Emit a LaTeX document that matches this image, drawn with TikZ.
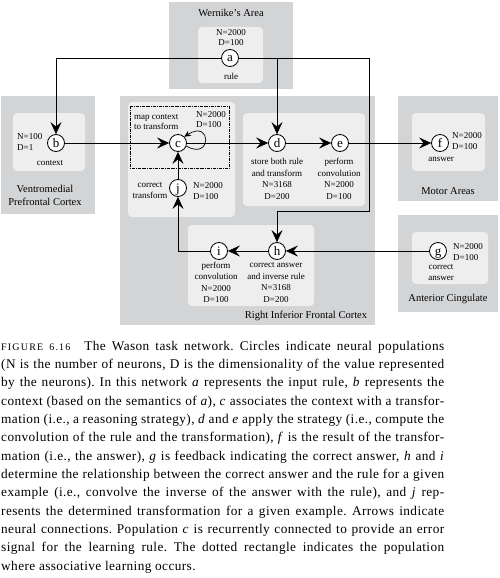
\documentclass[tikz,border=0pt]{standalone}
\usepackage{fontspec}
\setmainfont{Liberation Serif}
\usetikzlibrary{arrows.meta,calc}
\definecolor{outergray}{RGB}{211,212,214}
\definecolor{innergray}{RGB}{238,238,239}
\begin{document}
\frenchspacing
\begin{tikzpicture}[x=1pt,y=-1pt,
  region/.style={fill=outergray},
  panel/.style={fill=innergray,rounded corners=4pt},
  pop/.style={circle,draw,fill=white,line width=0.8pt,minimum size=17pt,inner sep=0pt,
    text height=8pt,text depth=0pt,font=\fontsize{13}{13}\selectfont},
  lbl/.style={font=\fontsize{9}{11.5}\selectfont,inner sep=0pt,align=center},
  lbll/.style={font=\fontsize{9}{11}\selectfont,inner sep=0pt,align=left,anchor=west},
  ttl/.style={font=\fontsize{10.5}{13}\selectfont,inner sep=0pt,align=center},
  conn/.style={line width=0.7pt,-{Stealth[length=12pt,width=11pt,inset=4.5pt]}},
  selfconn/.style={line width=0.7pt,-{Stealth[length=6.5pt,width=6pt,inset=2pt]}},
  capline/.style={font=\fontsize{13.3}{15}\selectfont\addfontfeatures{LetterSpace=3},inner sep=0pt,anchor=base west},
  learnbox/.style={line width=0.6pt,dash pattern=on 3pt off 1pt on 0.8pt off 1pt}
]
\useasboundingbox[fill=white] (0,0) rectangle (500,578);

% regions
\fill[region] (169,2) rectangle (293,89);
\fill[panel] (198,27) rectangle (263,83);
\fill[region] (1,96) rectangle (95,214);
\fill[panel] (13,113) rectangle (85,171);
\fill[region] (120,96) rectangle (375,325);
\fill[panel] (128,102) rectangle (235,217);
\fill[panel] (243,113) rectangle (365,206);
\fill[panel] (188,225) rectangle (314,306);
\fill[region] (398,96) rectangle (498,201);
\fill[panel] (412,113) rectangle (485,171);
\fill[region] (398,215) rectangle (498,312);
\fill[panel] (412,232) rectangle (488,284);
\draw[learnbox] (130,106) rectangle (229,168);

% titles
\node[ttl] (tW) at (231,13) {Wernike's Area};
\node[ttl] (tV) at (45,195.5) {Ventromedial\\Prefrontal Cortex};
\node[ttl] (tM) at (448,191) {Motor Areas};
\node[ttl] (tA) at (448,299) {Anterior Cingulate};
\node[ttl] (tR) at (306,315.5) {Right Inferior Frontal Cortex};

% populations
\node[pop] (a) at (230,58) {a};
\node[pop] (b) at (56,143) {b};
\node[pop] (c) at (178,143) {c};
\node[pop] (d) at (277,143) {d};
\node[pop] (e) at (340,143) {e};
\node[pop] (f) at (440,143) {f};
\node[pop] (g) at (438,251) {g};
\node[pop] (h) at (277,251) {h};
\node[pop] (i) at (219,251) {i};
\node[pop] (j) at (178,188) {j};

% labels
\node[lbl,font=\fontsize{9}{10}\selectfont] (aND) at (231,38) {N=2000\\D=100};
\node[lbl] (aL) at (231,76) {rule};
\node[lbll] (bND) at (17,142.5) {N=100\\D=1};
\node[lbl] (bL) at (50,163) {context};
\node[lbll,font=\fontsize{9}{10.6}\selectfont] (cL) at (134,122) {map context\\to transform};
\node[lbll,font=\fontsize{9}{10}\selectfont] (cND) at (196,119.5) {N=2000\\D=100};
\node[lbl,font=\fontsize{9}{11}\selectfont] (jL) at (150,190.5) {correct\\transform};
\node[lbll] (jND) at (193,191) {N=2000\\D=100};
\node[lbl] (dL) at (277,179) {store both rule\\and transform\\N=3168\\D=200};
\node[lbl] (eL) at (339,179) {perform\\convolution\\N=2000\\D=100};
\node[lbll] (fND) at (452,141.5) {N=2000\\D=100};
\node[lbl] (fL) at (441,159) {answer};
\node[lbll] (gND) at (453,252.5) {N=2000\\D=100};
\node[lbl,font=\fontsize{9}{11}\selectfont] (gL) at (441,273) {correct\\answer};
\node[lbl] (iL) at (216,282.5) {perform\\convolution\\N=2000\\D=100};
\node[lbl] (hL) at (276,282.5) {correct answer\\and inverse rule\\N=3168\\D=200};

% connectors
\coordinate (ahTop) at (369,58);
\coordinate (ahBend) at (369,211);
\draw[conn] (a.west) -| (b.north);
\draw[conn] (a.east) -| (d.north);
\draw[conn] (a.east) -- (ahTop) -- (ahBend) -| (h.north);
\draw[conn] (b.east) -- (c.west);
\draw[conn] (c.east) -- (d.west);
\draw[conn] (d.east) -- (e.west);
\draw[conn] (e.east) -- (f.west);
\draw[conn] (j.north) -- (c.south);
\draw[conn] (g.west) -- (h.east);
\draw[conn] (h.west) -- (i.east);
\draw[conn] (i.west) -| (j.south);
\draw[selfconn] (c.-20) .. controls ($(c)+(34,18)$) and ($(c)+(34,-24)$) .. (c.45);

% caption
\node[capline] (cap1) at (1,350) {\makebox[443pt][s]{{\fontsize{10}{10}\selectfont\addfontfeatures{LetterSpace=12}FIGURE 6.16}\hspace{14pt}The Wason task network. Circles indicate neural populations}};
\node[capline] (cap2) at (1,368.33) {\makebox[443pt][s]{(N is the number of neurons, D is the dimensionality of the value represented}};
\node[capline] (cap3) at (1,386.67) {\makebox[443pt][s]{by the neurons). In this network \textit{a} represents the input rule, \textit{b} represents the}};
\node[capline] (cap4) at (1,405) {\makebox[443pt][s]{context (based on the semantics of \textit{a}), \textit{c} associates the context with a transfor-}};
\node[capline] (cap5) at (1,423.33) {\makebox[443pt][s]{mation (i.e., a reasoning strategy), \textit{d} and \textit{e} apply the strategy (i.e., compute the}};
\node[capline] (cap6) at (1,441.67) {\makebox[443pt][s]{convolution of the rule and the transformation), \textit{f} is the result of the transfor-}};
\node[capline] (cap7) at (1,460) {\makebox[443pt][s]{mation (i.e., the answer), \textit{g} is feedback indicating the correct answer, \textit{h} and \textit{i}}};
\node[capline] (cap8) at (1,478.33) {\makebox[443pt][s]{determine the relationship between the correct answer and the rule for a given}};
\node[capline] (cap9) at (1,496.67) {\makebox[443pt][s]{example (i.e., convolve the inverse of the answer with the rule), and \textit{j} rep-}};
\node[capline] (cap10) at (1,515) {\makebox[443pt][s]{resents the determined transformation for a given example. Arrows indicate}};
\node[capline] (cap11) at (1,533.33) {\makebox[443pt][s]{neural connections. Population \textit{c} is recurrently connected to provide an error}};
\node[capline] (cap12) at (1,551.67) {\makebox[443pt][s]{signal for the learning rule. The dotted rectangle indicates the population}};
\node[capline] (cap13) at (1,570) {where associative learning occurs.};
\end{tikzpicture}
\end{document}
